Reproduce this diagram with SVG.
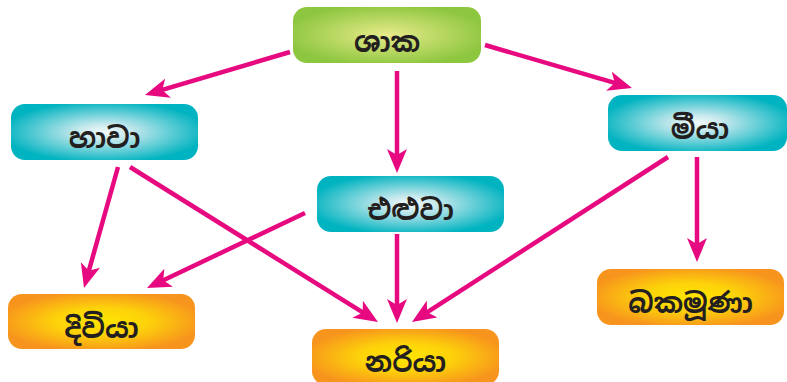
<svg xmlns="http://www.w3.org/2000/svg" width="787" height="382" viewBox="0 0 787 382">
<defs>
<radialGradient id="gGreen" cx="0.5" cy="0.5" r="0.55">
<stop offset="0" stop-color="#e8eb8a"/>
<stop offset="1" stop-color="#8dc63f"/>
</radialGradient>
<radialGradient id="gTeal" cx="0.5" cy="0.5" r="0.55">
<stop offset="0" stop-color="#f2fafb"/>
<stop offset="0.25" stop-color="#c8e9ed"/>
<stop offset="1" stop-color="#00b3c0"/>
</radialGradient>
<radialGradient id="gOrange" cx="0.5" cy="0.5" r="0.55">
<stop offset="0" stop-color="#ffe500"/>
<stop offset="0.45" stop-color="#fdd20a"/>
<stop offset="1" stop-color="#f7941d"/>
</radialGradient>
<marker id="ah" viewBox="0 0 24 20" refX="14" refY="10" markerWidth="24" markerHeight="20" markerUnits="userSpaceOnUse" orient="auto">
<path d="M0,0 L24,10 L0,20 L6,10 z" fill="#e6097f"/>
</marker>
<style>
.box rect{stroke:none}
.lbl{font-family:"Noto Sans Sinhala","Noto Serif Sinhala","Iskoola Pota","Noto Sans",sans-serif;font-size:28px;font-weight:bold;fill:#231f20;text-anchor:middle}
.edge{stroke:#e6097f;stroke-width:4.5;fill:none;marker-end:url(#ah)}
</style>
</defs>
<g id="connectors">
<line class="edge" x1="290" y1="52" x2="154.6" y2="92.2"/>
<line class="edge" x1="485" y1="45" x2="622.4" y2="85.2"/>
<line class="edge" x1="397" y1="71" x2="397" y2="163"/>
<line class="edge" x1="118" y1="167" x2="86.7" y2="278.4"/>
<line class="edge" x1="130" y1="167" x2="369.5" y2="316.7"/>
<line class="edge" x1="305" y1="213" x2="156" y2="283.7"/>
<line class="edge" x1="397" y1="234" x2="397" y2="313"/>
<line class="edge" x1="668" y1="157" x2="420.4" y2="316.6"/>
<line class="edge" x1="697" y1="157" x2="697" y2="252"/>
</g>
<g id="node-shaka" class="box">
<rect x="293" y="7" width="188" height="56" rx="14" fill="url(#gGreen)"/>
<text class="lbl" x="387" y="52">ශාක</text>
</g>
<g id="node-hawa" class="box">
<rect x="11" y="104" width="187" height="56" rx="14" fill="url(#gTeal)"/>
<text class="lbl" x="104.5" y="148">හාවා</text>
</g>
<g id="node-miya" class="box">
<rect x="608" y="95" width="179" height="56" rx="14" fill="url(#gTeal)"/>
<text class="lbl" x="700" y="139">මීයා</text>
</g>
<g id="node-eluwa" class="box">
<rect x="317" y="176" width="187" height="56" rx="14" fill="url(#gTeal)"/>
<text class="lbl" x="410.5" y="220">එළුවා</text>
</g>
<g id="node-diwiya" class="box">
<rect x="8" y="294" width="187" height="55" rx="14" fill="url(#gOrange)"/>
<text class="lbl" x="101.5" y="338">දිවියා</text>
</g>
<g id="node-nariya" class="box">
<rect x="312" y="329" width="187" height="56" rx="14" fill="url(#gOrange)"/>
<text class="lbl" x="405.5" y="372">නරියා</text>
</g>
<g id="node-bakamuna" class="box">
<rect x="597" y="269" width="187" height="56" rx="14" fill="url(#gOrange)"/>
<text class="lbl" x="690.5" y="313">බකමූණා</text>
</g>
</svg>
